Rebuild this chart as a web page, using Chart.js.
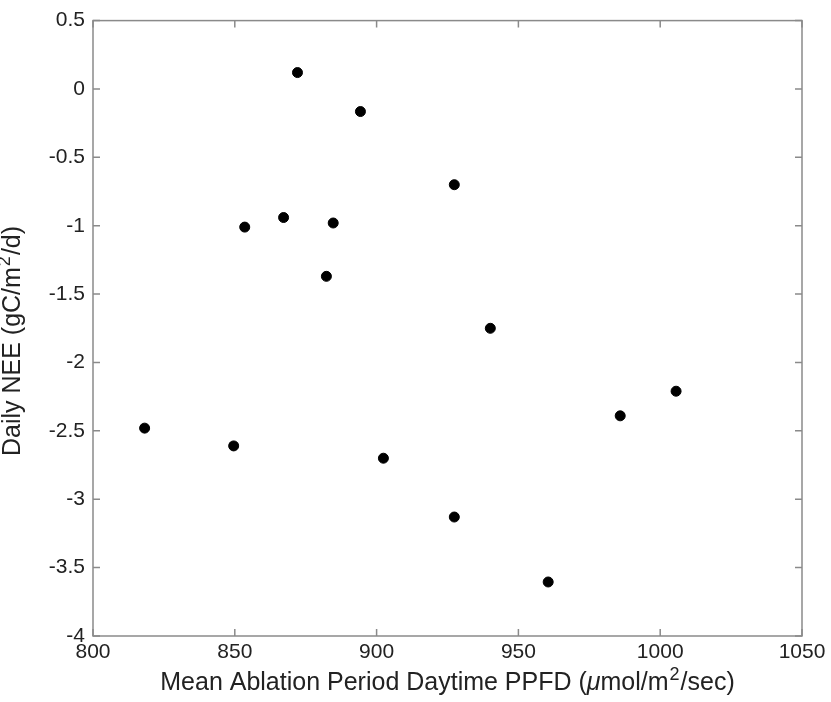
<!DOCTYPE html>
<html>
<head>
<meta charset="utf-8">
<script src="https://cdn.jsdelivr.net/npm/chart.js@4"></script>
<style>
  body { margin: 0; background: #fff; }
  #wrap { width: 831px; height: 702px; }
</style>
</head>
<body>
<div id="wrap"><canvas id="neeChart" width="831" height="702"></canvas></div>
<script>
// values
const ppfd = [818.2, 849.6, 853.5, 872.1, 867.2, 882.3, 884.7, 894.3, 902.4, 927.4, 927.4, 940.1, 960.5, 985.9, 1005.6];
const dailyNEE = [-2.48, -2.61, -1.01, 0.12, -0.94, -1.37, -0.98, -0.165, -2.70, -0.70, -3.13, -1.75, -3.605, -2.39, -2.21];
const xTicks = [800, 850, 900, 950, 1000, 1050];
const yTicks = [0.5, 0, -0.5, -1, -1.5, -2, -2.5, -3, -3.5, -4];

// axis titles as runs of [text, style]; style: 'n' normal, 'i' italic, 's' superscript
const xTitle = [['Mean Ablation Period Daytime PPFD (', 'n'], ['\u03bc', 'i'], ['mol/m', 'n'], ['2', 's'], ['/sec)', 'n']];
const yTitle = [['Daily NEE (gC/m', 'n'], ['2', 's'], ['/d)', 'n']];

const points = ppfd.map((x, i) => ({ x: x, y: dailyNEE[i] }));
const axisGray = '#8a8a8a';
const textColor = '#222';
const fam = 'Liberation Sans, Arial, sans-serif';
const titleSize = 25;

function runFont(style) {
    if (style === 's') return Math.round(titleSize * 0.7) + 'px ' + fam;
    if (style === 'i') return 'italic ' + titleSize + 'px ' + fam;
    return titleSize + 'px ' + fam;
}

function runsWidth(ctx, runs) {
    let w = 0;
    runs.forEach(r => { ctx.font = runFont(r[1]); w += ctx.measureText(r[0]).width + (r[1] === 's' ? 2 : 0); });
    return w;
}

// draws runs starting at (0, 0) baseline in the current transform
function drawRuns(ctx, runs) {
    let x = 0;
    runs.forEach(r => {
        ctx.font = runFont(r[1]);
        const dy = r[1] === 's' ? -titleSize * 0.42 : 0;
        const gap = r[1] === 's' ? 1 : 0;
        ctx.fillText(r[0], x + gap, dy);
        x += ctx.measureText(r[0]).width + 2 * gap;
    });
}

// box round the plot with inward ticks on all four sides, plus the axis titles
const boxTicks = {
    id: 'boxTicks',
    afterDraw(chart) {
        const ctx = chart.ctx;
        const a = chart.chartArea;
        const xs = chart.scales.x, ys = chart.scales.y;
        const len = 7;
        ctx.save();
        ctx.strokeStyle = axisGray;
        ctx.lineWidth = 1.5;
        ctx.strokeRect(a.left, a.top, a.right - a.left, a.bottom - a.top);
        ctx.beginPath();
        xTicks.forEach(v => {
            const px = xs.getPixelForValue(v);
            ctx.moveTo(px, a.bottom); ctx.lineTo(px, a.bottom - len);
            ctx.moveTo(px, a.top); ctx.lineTo(px, a.top + len);
        });
        yTicks.forEach(v => {
            const py = ys.getPixelForValue(v);
            ctx.moveTo(a.left, py); ctx.lineTo(a.left + len, py);
            ctx.moveTo(a.right, py); ctx.lineTo(a.right - len, py);
        });
        ctx.stroke();

        ctx.fillStyle = textColor;
        ctx.textAlign = 'left';
        ctx.textBaseline = 'alphabetic';

        const xw = runsWidth(ctx, xTitle);
        ctx.save();
        ctx.translate((a.left + a.right) / 2 - xw / 2, 690);
        drawRuns(ctx, xTitle);
        ctx.restore();

        const yw = runsWidth(ctx, yTitle);
        ctx.save();
        ctx.translate(20, 341 + yw / 2);
        ctx.rotate(-Math.PI / 2);
        drawRuns(ctx, yTitle);
        ctx.restore();

        ctx.restore();
    }
};

const ctx1 = document.getElementById('neeChart').getContext('2d');
const neeChart = new Chart(ctx1, {
    type: 'scatter',
    data: {
        datasets: [{
            data: points,
            backgroundColor: '#000',
            borderColor: '#000',
            pointRadius: 5,
            pointHoverRadius: 5
        }]
    },
    options: {
        responsive: false,
        animation: false,
        layout: { padding: { left: 0, right: 29, top: 20, bottom: 0 } },
        plugins: {
            legend: { display: false },
            tooltip: { enabled: false }
        },
        scales: {
            x: {
                type: 'linear',
                min: 800,
                max: 1050,
                afterBuildTicks: s => { s.ticks = xTicks.map(v => ({ value: v })); },
                afterFit: s => { s.height = 66; },
                grid: { display: false, drawTicks: false },
                border: { display: false },
                ticks: {
                    color: textColor,
                    font: { family: fam, size: 21 },
                    padding: 4,
                    maxRotation: 0,
                    callback: v => String(v)
                }
            },
            y: {
                type: 'linear',
                min: -4,
                max: 0.5,
                afterBuildTicks: s => { s.ticks = yTicks.map(v => ({ value: v })); },
                afterFit: s => { s.width = 93; },
                grid: { display: false, drawTicks: false },
                border: { display: false },
                ticks: {
                    color: textColor,
                    font: { family: fam, size: 21 },
                    padding: 8,
                    callback: v => String(v)
                }
            }
        }
    },
    plugins: [boxTicks]
});
</script>
</body>
</html>
